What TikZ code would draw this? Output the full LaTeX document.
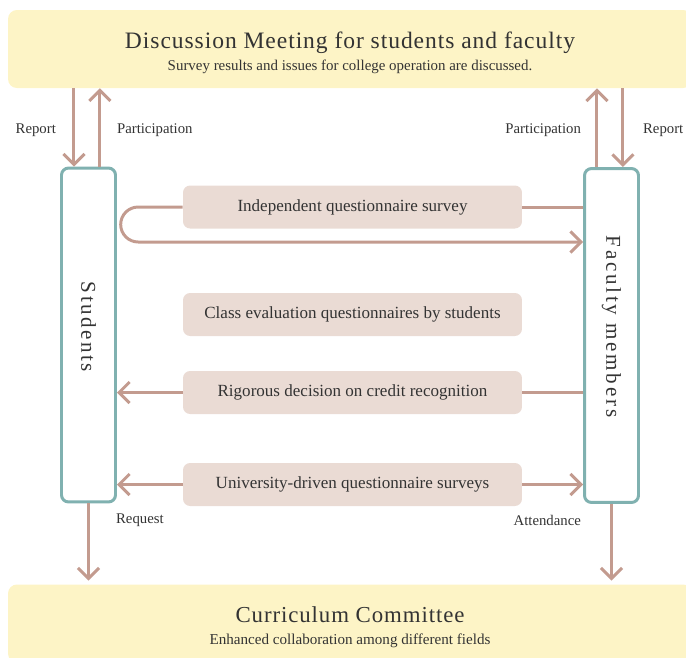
\documentclass[tikz,border=0pt]{standalone}
\usepackage{fontspec}
\setmainfont{Liberation Serif}
\usetikzlibrary{arrows.meta,calc,positioning}
\definecolor{banner}{HTML}{FDF4C6}
\definecolor{pinkbox}{HTML}{EADBD4}
\definecolor{sidecol}{HTML}{80B1B0}
\definecolor{flow}{HTML}{C39B8F}
\definecolor{ink}{HTML}{333333}
\begin{document}
\begin{tikzpicture}[x=0.02cm, y=-0.02cm,
    band/.style = {fill=banner, rounded corners=5pt, minimum width=13.68cm,
                minimum height=1.56cm, align=center, text=ink},
    side/.style = {draw=sidecol, line width=1.7pt, rounded corners=4pt,
                minimum width=1.08cm, minimum height=6.68cm},
    item/.style = {fill=pinkbox, rounded corners=4pt, minimum width=6.78cm,
                minimum height=0.86cm, text=ink,
                font=\fontsize{9.7}{11}\selectfont},
    lbl/.style = {text=ink, inner sep=1pt, font=\fontsize{8.4}{10}\selectfont},
    line/.style = {draw=flow, line width=1.7pt},
    arr/.style = {line, -{Straight Barb[length=6pt, width=12pt]}}  % open chevron
                    ]
        \useasboundingbox (0,0) rectangle (686,657);
        \clip (0,0) rectangle (686,657);
        % banners
        \node[band] (meet) at (350,49)
            {\rule{0pt}{13.5pt}{\fontsize{13.4}{15}\selectfont\addfontfeature{LetterSpace=4}Discussion Meeting for students and faculty}\\[0.5pt]
             {\fontsize{8.5}{10}\selectfont Survey results and issues for college operation are discussed.}};
        \node[band] (cc) at (350,623.5)
            {\rule{0pt}{13.5pt}{\fontsize{13}{15}\selectfont\addfontfeature{LetterSpace=4}Curriculum Committee}\\[0.5pt]
             {\fontsize{8.6}{10}\selectfont Enhanced collaboration among different fields}};
        % side boxes
        \node[side] (stu) at (88.5,335) {};
        \node[side] (fac) at (611.5,335.5) {};
        \node[rotate=-90, text=ink, font=\fontsize{12}{14}\selectfont\addfontfeature{LetterSpace=12}]
            (stutxt) at ($(stu.center)+(0,-8)$) {Students};
        \node[rotate=-90, text=ink, font=\fontsize{12}{14}\selectfont\addfontfeature{LetterSpace=13}]
            (factxt) at ($(fac.center)+(0,-9)$) {Faculty members};
        % middle boxes
        \foreach \y/\n/\t in {207/b1/Independent questionnaire survey,
                314.5/b2/Class evaluation questionnaires by students,
                392.5/b3/Rigorous decision on credit recognition,
                484.5/b4/University-driven questionnaire surveys}
            \node[item] (\n) at (352.5,\y) {\t};
        % labels
        \node[lbl, anchor=east] (rep1) at (58,130) {Report};
        \node[lbl, anchor=west] (par1) at (115,130) {Participation};
        \node[lbl, anchor=east] (par2) at (583,130) {Participation};
        \node[lbl, anchor=west] (rep2) at (641,130) {Report};
        \node[lbl, anchor=west] (req) at (114,520) {Request};
        \node[lbl, anchor=east] (att) at (583,520) {Attendance};
        % arrows to and from the meeting
        \coordinate (sr) at ($(stu.north west)!0.245!(stu.north east)$);
        \coordinate (sp) at ($(stu.north west)!0.70!(stu.north east)$);
        \coordinate (fp) at ($(fac.north west)!0.245!(fac.north east)$);
        \coordinate (fr) at ($(fac.north west)!0.70!(fac.north east)$);
        \draw[arr] (sr |- meet.south) -- (sr);
        \draw[arr] (sp) -- (sp |- meet.south);
        \draw[arr] (fp) -- (fp |- meet.south);
        \draw[arr] (fr |- meet.south) -- (fr);
        % arrows to the committee
        \draw[arr, shorten >=2pt] (stu.south) -- (stu.south |- cc.north);
        \draw[arr, shorten >=2pt] (fac.south) -- (fac.south |- cc.north);
        % middle connectors
        \draw[line] (fac.west |- b1.east) -- (b1.east);
        \draw[arr, rounded corners=0.35cm] (b1.west) -- ++(-62,0) -- ++(0,35) coordinate (lp)
            -- (lp -| fac.west);
        \draw[line] (fac.west |- b3.east) -- (b3.east);
        \draw[arr] (b3.west) -- (b3.west -| stu.east);
        \draw[arr] (b4.west) -- (b4.west -| stu.east);
        \draw[arr] (b4.east) -- (b4.east -| fac.west);
\end{tikzpicture}
\end{document}
